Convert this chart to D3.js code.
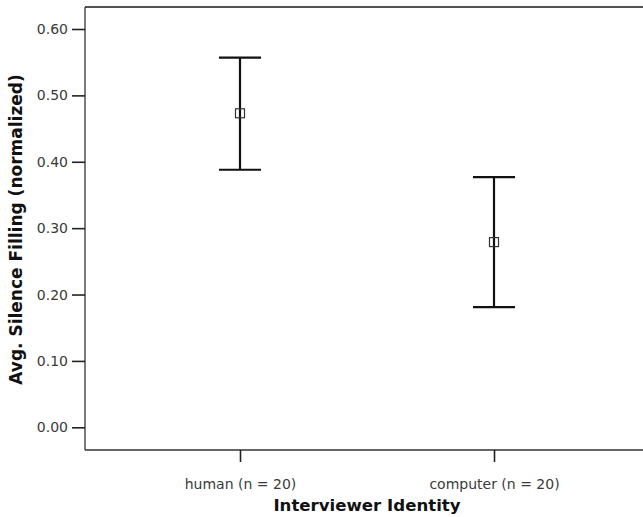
<!DOCTYPE html>
<html>
<head>
<meta charset="utf-8">
<script src="https://cdn.jsdelivr.net/npm/d3@7"></script>
<style>
  html, body { margin: 0; padding: 0; background: #fff; }
  svg { display: block; }
</style>
</head>
<body>
<div id="chart"></div>
<script>
// ---- data ----
const categories = ["human (n = 20)", "computer (n = 20)"];
const means = [0.473, 0.279];
const upper = [0.557, 0.377];
const lower = [0.388, 0.181];
const yTicks = [0, 0.1, 0.2, 0.3, 0.4, 0.5, 0.6];
const xTitle = "Interviewer Identity";
const yTitle = "Avg. Silence Filling (normalized)";

// ---- layout ----
const W = 643, H = 517;
const frame = { left: 85, top: 7, right: 643, bottom: 450 };

const svg = d3.select("#chart").append("svg")
  .attr("width", W).attr("height", H);

const x = d3.scalePoint().domain(categories).range([240, 494]);
const y = d3.scaleLinear().domain([0, 0.6]).range([427.3, 29]);

// frame (left, top, bottom lines)
svg.append("line").attr("x1", frame.left).attr("x2", frame.right)
  .attr("y1", frame.top).attr("y2", frame.top)
  .attr("stroke", "#1a1a1a").attr("stroke-width", 1.6);
svg.append("line").attr("x1", frame.left).attr("x2", frame.right)
  .attr("y1", frame.bottom).attr("y2", frame.bottom)
  .attr("stroke", "#333").attr("stroke-width", 1.3);
svg.append("line").attr("x1", frame.left).attr("x2", frame.left)
  .attr("y1", frame.top).attr("y2", frame.bottom)
  .attr("stroke", "#333").attr("stroke-width", 1.3);

const tickFont = "'DejaVu Sans', Verdana, sans-serif";

// y axis
const yAxis = svg.append("g")
  .attr("transform", `translate(${frame.left},0)`)
  .call(d3.axisLeft(y).tickValues(yTicks).tickFormat(d3.format(".2f"))
    .tickSize(13).tickPadding(4));
yAxis.select(".domain").remove();
yAxis.selectAll(".tick line").attr("stroke", "#222").attr("stroke-width", 1.6);
yAxis.selectAll(".tick text")
  .attr("fill", "#3a3a3a")
  .style("font-family", tickFont)
  .style("font-size", "14px");

// x axis
const xAxis = svg.append("g")
  .attr("transform", `translate(0,${frame.bottom})`)
  .call(d3.axisBottom(x).tickSize(12).tickPadding(17));
xAxis.select(".domain").remove();
xAxis.selectAll(".tick line").attr("stroke", "#222").attr("stroke-width", 1.6);
xAxis.selectAll(".tick text")
  .attr("fill", "#3a3a3a")
  .style("font-family", tickFont)
  .style("font-size", "14px");

// error bars
const capHalf = 21;
const g = svg.append("g");
categories.forEach((c, i) => {
  const cx = x(c);
  g.append("line").attr("x1", cx).attr("x2", cx)
    .attr("y1", y(upper[i])).attr("y2", y(lower[i]))
    .attr("stroke", "#111").attr("stroke-width", 2.2);
  g.append("line").attr("x1", cx - capHalf).attr("x2", cx + capHalf)
    .attr("y1", y(upper[i])).attr("y2", y(upper[i]))
    .attr("stroke", "#111").attr("stroke-width", 2.2);
  g.append("line").attr("x1", cx - capHalf).attr("x2", cx + capHalf)
    .attr("y1", y(lower[i])).attr("y2", y(lower[i]))
    .attr("stroke", "#111").attr("stroke-width", 2.2);
  g.append("rect")
    .attr("x", cx - 4.5).attr("y", y(means[i]) - 4.5)
    .attr("width", 9).attr("height", 9)
    .attr("fill", "none").attr("stroke", "#333").attr("stroke-width", 1.2);
});

// titles
svg.append("text")
  .attr("x", (x(categories[0]) + x(categories[1])) / 2)
  .attr("y", 511)
  .attr("text-anchor", "middle")
  .style("font-family", tickFont)
  .style("font-weight", "bold")
  .style("font-size", "16.6px")
  .attr("fill", "#111")
  .text(xTitle);

svg.append("text")
  .attr("transform", `translate(22,${(frame.top + frame.bottom) / 2 + 1}) rotate(-90)`)
  .attr("text-anchor", "middle")
  .style("font-family", tickFont)
  .style("font-weight", "bold")
  .style("font-size", "17px")
  .attr("fill", "#111")
  .text(yTitle);
</script>
</body>
</html>
